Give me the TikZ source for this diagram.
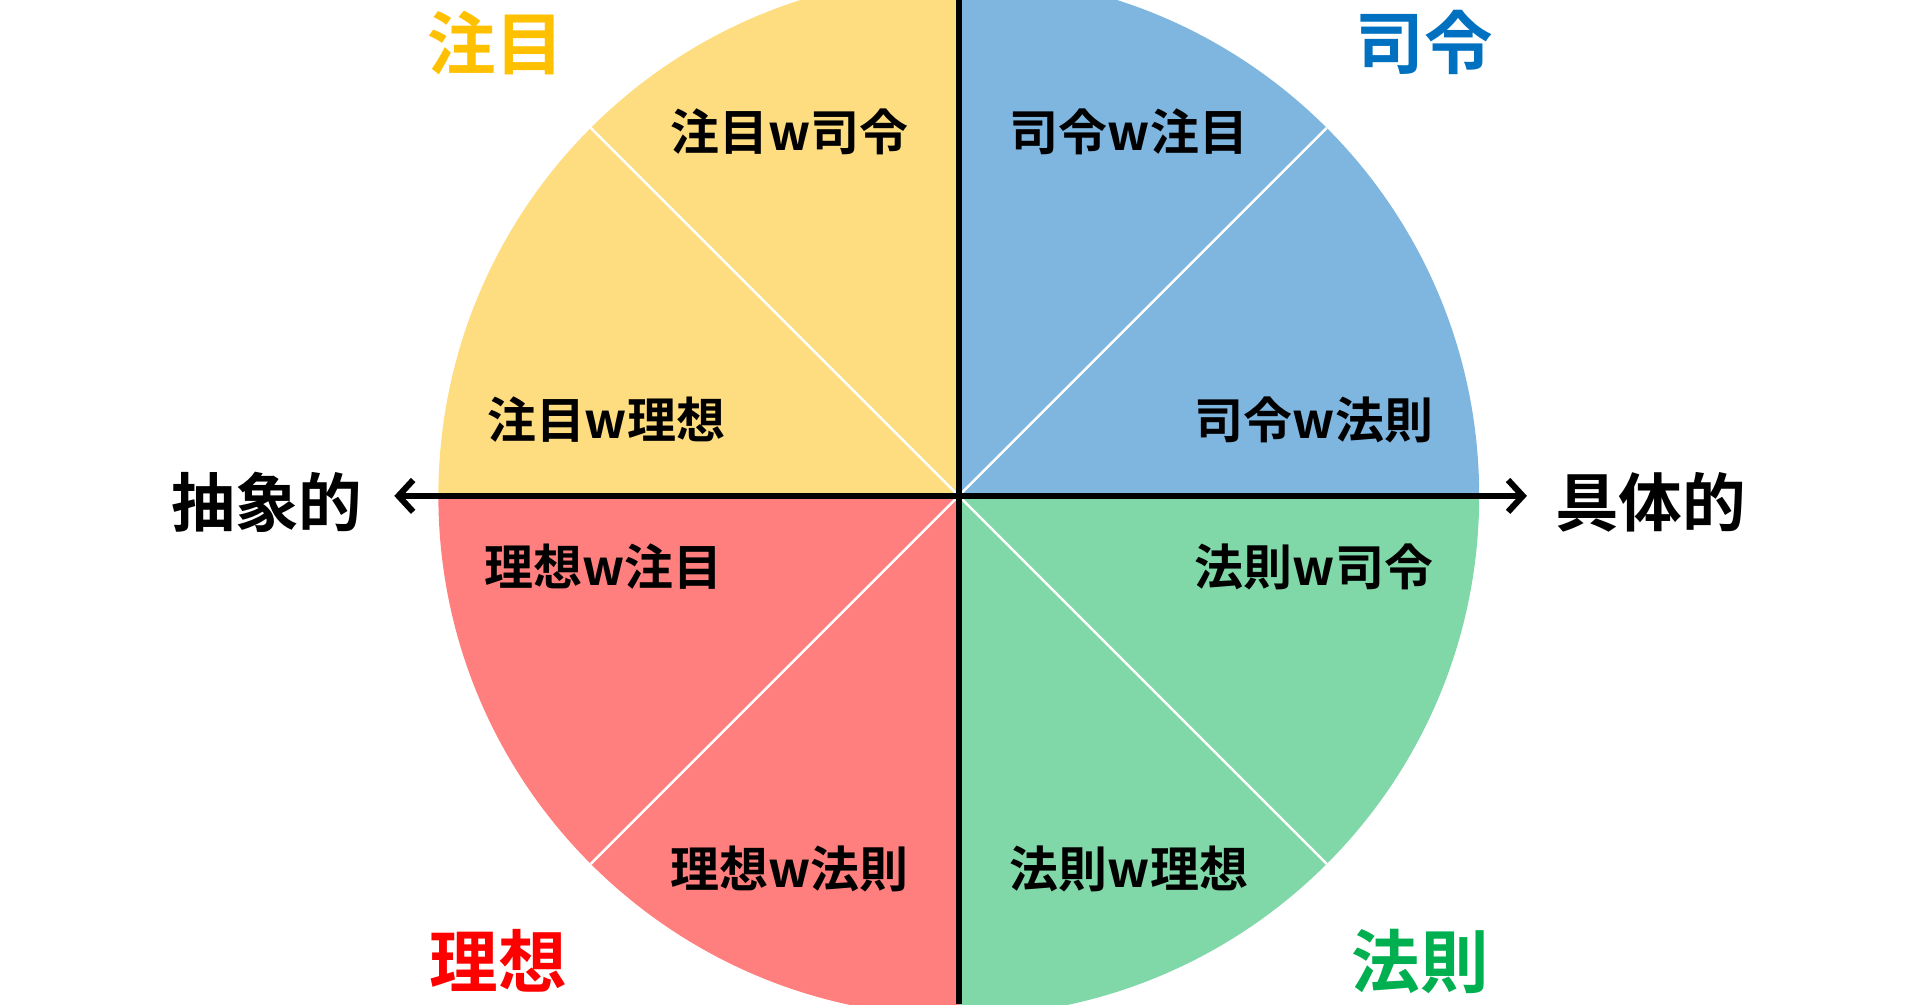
\documentclass[tikz,border=0pt]{standalone}
\usepackage{fontspec}
\setmainfont{Noto Sans CJK JP}[BoldFont={Noto Sans CJK JP Bold}]
\usetikzlibrary{arrows.meta}
\definecolor{cy}{HTML}{FEDC80}
\definecolor{cb}{HTML}{7FB6DF}
\definecolor{cr}{HTML}{FF7F7F}
\definecolor{cg}{HTML}{80D8A8}
\definecolor{ty}{HTML}{FFC000}
\definecolor{tb}{HTML}{0070C0}
\definecolor{tr}{HTML}{FF0000}
\definecolor{tg}{HTML}{00B050}
\tikzset{lab/.style={font=\bfseries\fontsize{40}{44}\selectfont},
 ttl/.style={font=\bfseries\fontsize{56}{60}\selectfont},
 axl/.style={font=\bfseries\fontsize{52}{56}\selectfont}}
\begin{document}
\begin{tikzpicture}[x=1pt,y=1pt]
\useasboundingbox (0,0) rectangle (1568,820);
\begin{scope}
\clip (0,0) rectangle (1568,820);
\coordinate (c) at (783,415);
\fill[cy] (c) -- ++(180:425) arc (180:90:425) -- cycle;
\fill[cb] (c) -- ++(90:425) arc (90:0:425) -- cycle;
\fill[cg] (c) -- ++(0:425) arc (0:-90:425) -- cycle;
\fill[cr] (c) -- ++(-90:425) arc (-90:-180:425) -- cycle;
\draw[white,line width=2pt] (c) -- ++(45:425) (c) -- ++(135:425) (c) -- ++(225:425) (c) -- ++(315:425);
\draw[black,line width=5pt] (783,0) -- (783,820);
\end{scope}
\coordinate (al) at (322,415);
\coordinate (ar) at (1247,415);
\draw[line width=5pt,{Straight Barb[length=12pt,width=26pt]}-{Straight Barb[length=12pt,width=26pt]}] (al) -- (ar);
\node[ttl,text=ty] (t1) at (405,785) {注目};
\node[ttl,text=tb] (t2) at (1163,785) {司令};
\node[ttl,text=tr] (t3) at (407,35) {理想};
\node[ttl,text=tg] (t4) at (1160,35) {法則};
\node[axl] (a1) at (218,410) {抽象的};
\node[axl] (a2) at (1348,410) {具体的};
\node[lab] (l1) at (645,712) {注目w司令};
\node[lab] (l2) at (922,712) {司令w注目};
\node[lab] (l3) at (495,477) {注目w理想};
\node[lab] (l4) at (1073,477) {司令w法則};
\node[lab] (l5) at (493,357) {理想w注目};
\node[lab] (l6) at (1073,357) {法則w司令};
\node[lab] (l7) at (645,110) {理想w法則};
\node[lab] (l8) at (922,110) {法則w理想};
\end{tikzpicture}
\end{document}
